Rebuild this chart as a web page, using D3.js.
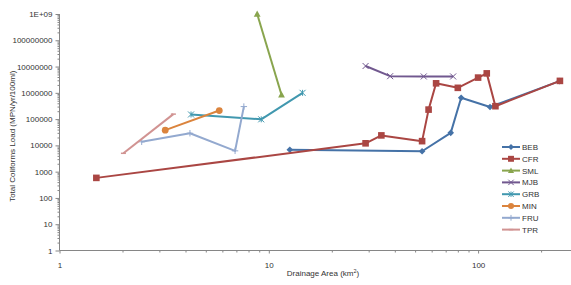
<!DOCTYPE html>
<html>
<head>
<meta charset="utf-8">
<script src="https://cdn.jsdelivr.net/npm/d3@7"></script>
<style>
  body { margin: 0; background: #fff; }
  svg { display: block; font-family: "Liberation Sans", Arial, sans-serif; }
  .tick text { font-size: 8px; fill: #333; }
</style>
</head>
<body>
<div id="chart"></div>
<script>
// ===== Data =====
const seriesNames = ["BEB", "CFR", "SML", "MJB", "GRB", "MIN", "FRU", "TPR"];
const seriesColors = ["#4572A7", "#AA4643", "#89A54E", "#71588F", "#4198AF", "#DB843D", "#93A9CF", "#D19392"];
const seriesMarkers = ["diamond", "square", "triangle", "x", "star", "circle", "plus", "dash"];

const bebArea = [12.6, 54, 74, 83, 114, 245];
const bebLoad = [6800, 6000, 30000, 650000, 290000, 2800000];

const cfrArea = [1.5, 29, 34.5, 54, 58, 63, 80, 100, 110, 121, 246];
const cfrLoad = [580, 12000, 24000, 14500, 230000, 2300000, 1550000, 3800000, 5500000, 310000, 2850000];

const smlArea = [8.8, 11.5];
const smlLoad = [1.0e9, 850000];

const mjbArea = [29, 38, 55, 76];
const mjbLoad = [10500000, 4300000, 4200000, 4200000];

const grbArea = [4.25, 9.2, 14.5];
const grbLoad = [150000, 98000, 1000000];

const minArea = [3.2, 5.8];
const minLoad = [38000, 212000];

const fruArea = [2.47, 4.2, 6.9, 7.6];
const fruLoad = [13700, 29000, 6200, 300000];

const tprArea = [2.02, 3.5];
const tprLoad = [5000, 155000];

const seriesArea = [bebArea, cfrArea, smlArea, mjbArea, grbArea, minArea, fruArea, tprArea];
const seriesLoad = [bebLoad, cfrLoad, smlLoad, mjbLoad, grbLoad, minLoad, fruLoad, tprLoad];

const yTickValues = [1, 10, 100, 1000, 10000, 100000, 1000000, 10000000, 100000000, 1000000000];
const yTickLabels = ["1", "10", "100", "1000", "10000", "100000", "1000000", "10000000", "100000000", "1E+09"];
const xTickValues = [1, 10, 100];
const xTickLabels = ["1", "10", "100"];

// ===== Layout =====
const width = 571, height = 285;
const x0 = 59.5, decadeW = 209.3;
const yBottom = 250.5, yTop = 14;

const svg = d3.select("#chart").append("svg")
  .attr("width", width)
  .attr("height", height);

// the plot runs on past the right edge of the picture (up to 1000 km²)
const x = d3.scaleLog().domain([1, 1000]).range([x0, x0 + 3 * decadeW]);
const y = d3.scaleLog().domain([1, 1e9]).range([yBottom, yTop]);

// minor ticks 2..9 in each decade
function minorTicks(lo, hi) {
  const out = [];
  for (let p = lo; p < hi; p++) {
    for (let m = 2; m <= 9; m++) out.push(m * Math.pow(10, p));
  }
  return out;
}

const axisColor = "#868686";

// y axis
const yAxisG = svg.append("g").attr("transform", `translate(${x0},0)`);
yAxisG.call(d3.axisLeft(y).tickValues(minorTicks(0, 9)).tickSize(2).tickFormat(""))
  .call(g => g.select(".domain").remove())
  .call(g => g.selectAll("line").attr("stroke", axisColor));
yAxisG.append("g")
  .call(d3.axisLeft(y).tickValues(yTickValues).tickSize(4).tickPadding(3)
    .tickFormat((d, i) => yTickLabels[i]))
  .call(g => g.select(".domain").attr("stroke", axisColor).attr("d", `M-0,${yTop}V${yBottom}`))
  .call(g => g.selectAll("line").attr("stroke", axisColor));

// x axis
const xAxisG = svg.append("g").attr("transform", `translate(0,${yBottom})`);
xAxisG.call(d3.axisBottom(x).tickValues(minorTicks(0, 3).filter(v => x(v) < width)).tickSize(2).tickFormat(""))
  .call(g => g.select(".domain").remove())
  .call(g => g.selectAll("line").attr("stroke", axisColor));
xAxisG.append("g")
  .call(d3.axisBottom(x).tickValues(xTickValues).tickSize(3).tickPadding(9)
    .tickFormat((d, i) => xTickLabels[i]))
  .call(g => g.select(".domain").attr("stroke", axisColor).attr("d", `M${x0},0H${width}`))
  .call(g => g.selectAll("line").attr("stroke", axisColor));

// axis titles
svg.append("text")
  .attr("transform", `translate(13,${(yTop + yBottom) / 2 + 4}) rotate(-90)`)
  .attr("text-anchor", "middle")
  .attr("dominant-baseline", "middle")
  .style("font-size", "8px")
  .attr("fill", "#333")
  .text("Total Coliforms Load (MPN/yr/100ml)");

const xTitle = svg.append("text")
  .attr("x", 323).attr("y", 276)
  .attr("text-anchor", "middle")
  .style("font-size", "8px")
  .attr("fill", "#333");
xTitle.append("tspan").text("Drainage Area (km");
xTitle.append("tspan").attr("dy", -3).style("font-size", "5.5px").text("2");
xTitle.append("tspan").attr("dy", 3).text(")");

// ===== markers =====
function drawMarker(g, type, cx, cy, color, s) {
  const k = s || 1;
  if (type === "diamond") {
    const r = 3.3 * k;
    g.append("path").attr("d", `M${cx},${cy - r}L${cx + r},${cy}L${cx},${cy + r}L${cx - r},${cy}Z`).attr("fill", color);
  } else if (type === "square") {
    const r = 3.3 * k;
    g.append("rect").attr("x", cx - r).attr("y", cy - r).attr("width", 2 * r).attr("height", 2 * r).attr("fill", color);
  } else if (type === "triangle") {
    const r = 3.4 * k;
    g.append("path").attr("d", `M${cx},${cy - r}L${cx + r},${cy + r * 0.8}L${cx - r},${cy + r * 0.8}Z`).attr("fill", color);
  } else if (type === "circle") {
    g.append("circle").attr("cx", cx).attr("cy", cy).attr("r", 3.4 * k).attr("fill", color);
  } else if (type === "x") {
    const r = 3 * k;
    g.append("path").attr("d", `M${cx - r},${cy - r}L${cx + r},${cy + r}M${cx - r},${cy + r}L${cx + r},${cy - r}`)
      .attr("stroke", color).attr("stroke-width", 1);
  } else if (type === "star") {
    const r = 3 * k;
    g.append("path").attr("d", `M${cx - r},${cy - r}L${cx + r},${cy + r}M${cx - r},${cy + r}L${cx + r},${cy - r}M${cx},${cy - r}L${cx},${cy + r}`)
      .attr("stroke", color).attr("stroke-width", 1);
  } else if (type === "plus") {
    const r = 3.2 * k;
    g.append("path").attr("d", `M${cx - r},${cy}L${cx + r},${cy}M${cx},${cy - r}L${cx},${cy + r}`)
      .attr("stroke", color).attr("stroke-width", 1);
  } else if (type === "dash") {
    const r = 2.5 * k;
    g.append("path").attr("d", `M${cx - r},${cy}L${cx + r},${cy}`)
      .attr("stroke", color).attr("stroke-width", 1.5);
  }
}

// ===== series =====
const line = d3.line().x(d => x(d.area)).y(d => y(d.load));
const plotG = svg.append("g");

seriesNames.forEach((name, i) => {
  const pts = seriesArea[i].map((a, j) => ({ area: a, load: seriesLoad[i][j] }));
  const g = plotG.append("g");
  g.append("path")
    .datum(pts)
    .attr("d", line)
    .attr("fill", "none")
    .attr("stroke", seriesColors[i])
    .attr("stroke-width", 2)
    .attr("stroke-linejoin", "round");
  pts.forEach(p => drawMarker(g, seriesMarkers[i], x(p.area), y(p.load), seriesColors[i]));
});

// ===== legend =====
const legend = svg.append("g").attr("transform", "translate(502,147)");
seriesNames.forEach((name, i) => {
  const row = legend.append("g").attr("transform", `translate(0,${i * 11.8})`);
  row.append("line")
    .attr("x1", 0).attr("x2", 18).attr("y1", 0).attr("y2", 0)
    .attr("stroke", seriesColors[i]).attr("stroke-width", 2);
  drawMarker(row, seriesMarkers[i], 9, 0, seriesColors[i], 0.9);
  row.append("text")
    .attr("x", 20).attr("y", 3)
    .style("font-size", "8px")
    .attr("fill", "#333")
    .text(name);
});
</script>
</body>
</html>
